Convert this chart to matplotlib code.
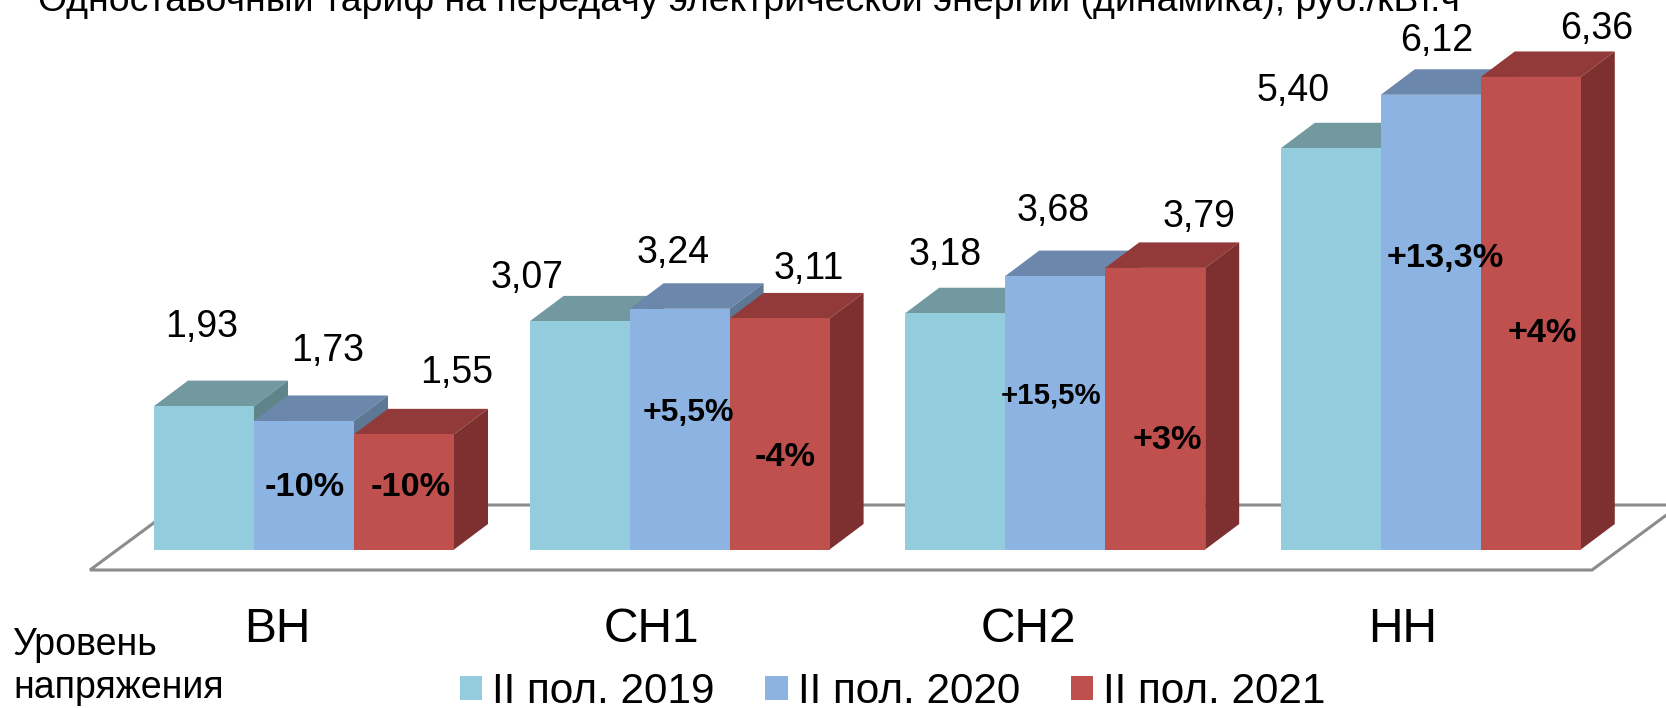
import matplotlib
matplotlib.use("Agg")
import matplotlib.pyplot as plt
from matplotlib.patches import Polygon, Patch

plt.rcParams['font.family'] = ['Liberation Sans', 'DejaVu Sans']

categories = ['ВН', 'СН1', 'СН2', 'НН']
series_names = ['II пол. 2019', 'II пол. 2020', 'II пол. 2021']
values_2019 = [1.93, 3.07, 3.18, 5.40]
values_2020 = [1.73, 3.24, 3.68, 6.12]
values_2021 = [1.55, 3.11, 3.79, 6.36]
value_labels_2019 = ['1,93', '3,07', '3,18', '5,40']
value_labels_2020 = ['1,73', '3,24', '3,68', '6,12']
value_labels_2021 = ['1,55', '3,11', '3,79', '6,36']
change_labels_2020 = ['-10%', '+5,5%', '+15,5%', '+13,3%']
change_labels_2021 = ['-10%', '-4%', '+3%', '+4%']
title = 'Одноставочный тариф на передачу электрической энергии (динамика), руб./кВт.ч'

W, H = 1666, 708
BASE_Y = 549.5     # pixel row of value 0
PX_PER_UNIT = 74.3
GROUP_PX = 375.6
X0 = 304.0         # pixel column of group 0 centre
BAR_PX, DX_PX, DY_PX = 100.0, 34.0, 25.5

fig = plt.figure(figsize=(W / 100, H / 100), dpi=100, facecolor='white')
ax = fig.add_axes([0, 0, 1, 1])
ax.set_xlim(-X0 / GROUP_PX, (W - X0) / GROUP_PX)
ax.set_ylim(-(H - BASE_Y) / PX_PER_UNIT, BASE_Y / PX_PER_UNIT)
ax.axis('off')

bw = BAR_PX / GROUP_PX
dx = DX_PX / GROUP_PX
dy = DY_PX / PX_PER_UNIT


def px(x, y):
    return (x - X0) / GROUP_PX, (BASE_Y - y) / PX_PER_UNIT


# floor of the 3D chart
floor = [px(90, 570), px(1592, 570), px(1680, 505), px(178, 505)]
ax.add_patch(Polygon(floor, closed=True, facecolor='white', edgecolor='#8C8C8C',
                     lw=2.2, zorder=1, joinstyle='miter'))

front_cols = ['#93CDDD', '#8DB3E2', '#C0504D']
top_cols = ['#71999F', '#6C87AC', '#923A39']
side_cols = ['#5F8489', '#5D7794', '#7D302F']
series = [values_2019, values_2020, values_2021]

z = 2
for g in range(len(categories)):
    for s, vals in enumerate(series):
        left = g + (s - 1.5) * bw
        v = vals[g]
        ax.add_patch(Polygon([(left, v), (left + bw, v), (left + bw + dx, v + dy), (left + dx, v + dy)],
                             closed=True, facecolor=top_cols[s], edgecolor='none', zorder=z))
        ax.add_patch(Polygon([(left + bw, 0), (left + bw + dx, dy), (left + bw + dx, v + dy), (left + bw, v)],
                             closed=True, facecolor=side_cols[s], edgecolor='none', zorder=z))
        ax.bar(left, v, width=bw, align='edge', color=front_cols[s], linewidth=0, zorder=z + 0.5)
        z += 1

# value labels
value_label_px = [
    [(202, 327), (527, 278), (945, 255.5), (1293, 90.5)],
    [(328, 351.5), (673, 252.5), (1053, 211.5), (1437, 40.5)],
    [(457, 372.5), (809, 268.5), (1199, 217), (1597, 29.5)],
]
for labs, poss in zip([value_labels_2019, value_labels_2020, value_labels_2021], value_label_px):
    for lab, (x, y) in zip(labs, poss):
        ax.text(*px(x, y), lab, fontsize=27, ha='center', va='center', color='black', zorder=100)

# change labels
change_pos_2020 = [(305, 487), (688, 413), (1051, 396), (1445, 258)]
change_pos_2021 = [(411, 487), (785, 457), (1167, 440), (1542, 333)]
change_size_2020 = [24.7, 23, 21.2, 24.7]
for lab, (x, y), fs in zip(change_labels_2020, change_pos_2020, change_size_2020):
    ax.text(*px(x, y), lab, fontsize=fs, fontweight='bold', ha='center', va='center', zorder=100)
for lab, (x, y) in zip(change_labels_2021, change_pos_2021):
    ax.text(*px(x, y), lab, fontsize=24.7, fontweight='bold', ha='center', va='center', zorder=100)

# category labels
cat_px = [277, 651, 1028, 1403]
for lab, x in zip(categories, cat_px):
    ax.text(*px(x, 630), lab, fontsize=34.5, ha='center', va='center', zorder=100)

# title, cut by the top edge as in the source
ax.text(*px(38, 11), title, fontsize=26.9, ha='left', va='baseline', clip_on=False, zorder=100)

# axis caption
ax.text(*px(13, 645), 'Уровень', fontsize=27, ha='left', va='center', zorder=100)
ax.text(*px(13, 688), 'напряжения', fontsize=27, ha='left', va='center', zorder=100)

# legend
handles = [Patch(facecolor=c, edgecolor='none', label=n) for c, n in zip(front_cols, series_names)]
ax.legend(handles=handles, ncols=3, frameon=False, fontsize=30.45, loc='center left',
          bbox_to_anchor=(460 / W, 1 - 692 / H), bbox_transform=fig.transFigure,
          borderpad=0, borderaxespad=0, handlelength=0.53, handleheight=0.5,
          handletextpad=0.23, columnspacing=1.2)

fig.savefig('out.png', dpi=100)
